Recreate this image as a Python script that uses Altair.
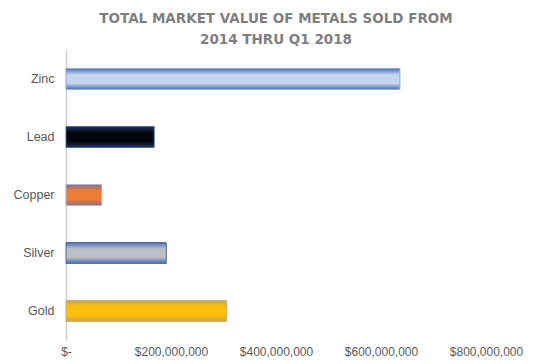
import altair as alt
import pandas as pd

metals = ["Zinc", "Lead", "Copper", "Silver", "Gold"]
values = [636000000, 168000000, 68000000, 191000000, 306000000]
tick_values = [0, 200000000, 400000000, 600000000, 800000000]

df = pd.DataFrame({"metal": metals, "value": values})

# per-bar gradient fills (edge colour, centre colour, stroke)
styles = {
    "Zinc":   ("#4a6fb5", "#c6d6ef", "#8eaadb"),
    "Lead":   ("#1f3358", "#02050c", "#4a6aa8"),
    "Copper": ("#8d6f86", "#ee7d34", "#a7b6d6"),
    "Silver": ("#4d6fb2", "#bcbfc6", "#4a6db0"),
    "Gold":   ("#c8a64a", "#fdbf0c", "#c9b06a"),
}

def grad(edge, centre):
    return alt.LinearGradient(
        gradient="linear", x1=0, y1=0, x2=0, y2=1,
        stops=[
            alt.GradientStop(offset=0, color=edge),
            alt.GradientStop(offset=0.3, color=centre),
            alt.GradientStop(offset=0.7, color=centre),
            alt.GradientStop(offset=1, color=edge),
        ],
    )

base = alt.Chart(df).encode(
    y=alt.Y("metal:N", sort=metals, title=None,
            scale=alt.Scale(paddingInner=0.64, paddingOuter=0.32),
            axis=alt.Axis(domain=True, domainColor="#d0d0d0", domainWidth=1.5,
                          ticks=False, labelPadding=12, labelFontSize=12.5,
                          labelColor="#595959", labelFont="Liberation Sans")),
    x=alt.X("value:Q", title=None,
            scale=alt.Scale(domain=[0, 800000000], nice=False),
            axis=alt.Axis(values=tick_values, grid=False, domain=False, ticks=False,
                          labelExpr="datum.value == 0 ? '$-' : format(datum.value, '$,.0f')",
                          labelFontSize=12, labelColor="#595959", labelPadding=6,
                          labelFont="Liberation Sans", labelFlush=False)),
)

layers = []
for m in metals:
    edge, centre, stroke = styles[m]
    layers.append(
        base.transform_filter(alt.datum.metal == m).mark_bar(
            color=grad(edge, centre), stroke=stroke, strokeWidth=1
        )
    )

chart = alt.layer(*layers).properties(
    width=420, height=290,
    title=alt.TitleParams(
        text=["TOTAL MARKET VALUE OF METALS SOLD FROM", "2014 THRU Q1 2018"],
        font="DejaVu Sans", fontSize=13.5, fontWeight="bold", color="#7f7f7f",
        anchor="middle", lineHeight=21, offset=4,
    ),
    padding={"left": 66, "top": 50, "right": 59, "bottom": 24},
    autosize=alt.AutoSizeParams(type="none"),
).configure(background="white").configure_view(strokeWidth=0)

chart.save("out.html", embed_options={"renderer": "svg", "actions": False})
